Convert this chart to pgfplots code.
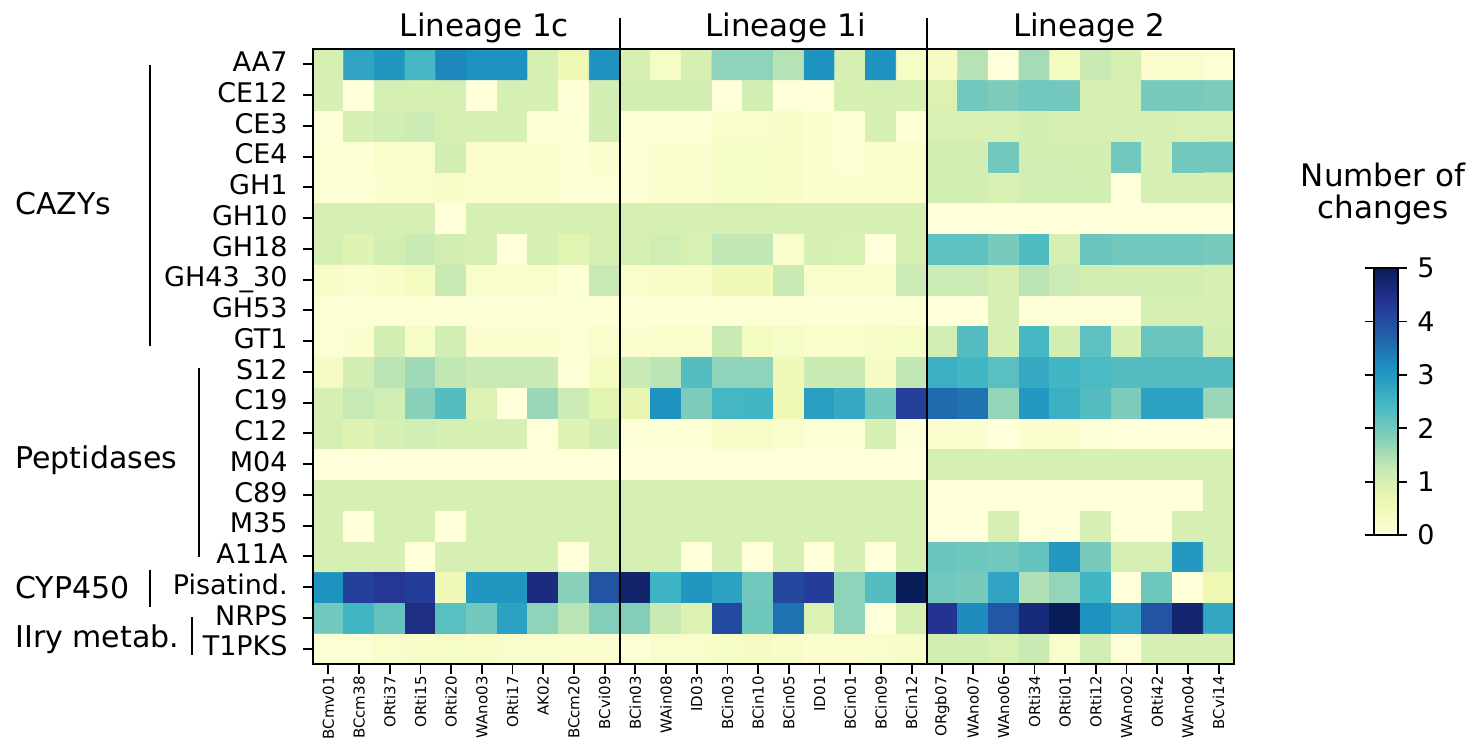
\documentclass[border=0pt]{standalone}
\usepackage{fontspec}
\setmainfont{DejaVu Sans}
\usepackage{pgfplots}
\pgfplotsset{compat=1.18}
\newcommand{\fs}[1]{\fontsize{#1}{#1}\selectfont}
\begin{document}
\begin{tikzpicture}
\begin{axis}[
  at={(0,0)}, anchor=south west,
  scale only axis, width=460.5pt, height=307.5pt,
  xmin=-0.5, xmax=29.5, ymin=-0.5, ymax=19.5,
  enlargelimits=false, axis on top, clip=false,
  colormap={ylgnbu}{rgb255=(255,255,217) rgb255=(237,248,177) rgb255=(199,233,180) rgb255=(127,205,187) rgb255=(65,182,196) rgb255=(29,145,192) rgb255=(34,94,168) rgb255=(37,52,148) rgb255=(8,29,88)},
  point meta min=0, point meta max=5,
  xtick={0,...,29}, ytick={0,...,19},
  xticklabels={BCmv01,BCcm38,ORti37,ORti15,ORti20,WAno03,ORti17,AK02,BCcm20,BCvi09,BCin03,WAin08,ID03,BCin03,BCin10,BCin05,ID01,BCin01,BCin09,BCin12,ORgb07,WAno07,WAno06,ORti34,ORti01,ORti12,WAno02,ORti42,WAno04,BCvi14},
  yticklabels={T1PKS,NRPS,Pisatind.,A11A,M35,C89,M04,C12,C19,S12,GT1,GH53,GH43\_30,GH18,GH10,GH1,CE4,CE3,CE12,AA7},
  xtick pos=bottom, ytick pos=left,
  tick align=outside, major tick length=5pt,
  every tick/.append style={black, line width=0.9pt},
  xtick style={black, line width=0.9pt},
  ytick style={black, line width=0.9pt},
  axis line style={black, line width=1.3pt},
  xticklabel style={font=\fs{7.5}, inner sep=0pt, rotate=90, anchor=east, xshift=-1pt},
  yticklabel style={font=\fs{13.5}, inner sep=0pt, anchor=east, text height=0.73em, text depth=0pt, xshift=-7.5pt},
  colorbar right,
  colorbar style={
    scale only axis, width=12pt, height=133.5pt,
    anchor=south west, at={(parent axis.south east)}, xshift=61.5pt, yshift=64.5pt,
    ytick={0,1,2,3,4,5},
    tick align=outside, major tick length=4.5pt,
    every tick/.append style={black, line width=0.9pt},
    axis line style={black, line width=1pt},
    yticklabel style={font=\fs{13.5}, inner sep=0pt, anchor=west, xshift=5pt},
    /pgf/number format/assume math mode=true,
  },
]
% rows listed from bottom (T1PKS) to top (AA7); 30 values per row
\addplot[matrix plot*, mesh/cols=30, mesh/rows=20, mesh/ordering=x varies, point meta=explicit]
  table[row sep=\\, x expr={\coordindex-30*floor((\coordindex+0.5)/30)}, y expr={floor((\coordindex+0.5)/30)}, meta=v]{v\\
0.1\\0.1\\0.2\\0.25\\0.3\\0.25\\0.2\\0.2\\0.15\\0.15\\0.1\\0.2\\0.2\\0.3\\0.35\\0.25\\0.15\\0.15\\0.2\\0.25\\1.05\\1.05\\0.95\\1.2\\0.2\\1.1\\0.05\\1.0\\1.0\\1.0\\
2.0\\2.5\\2.15\\4.55\\2.25\\2.0\\2.85\\1.75\\1.35\\1.85\\1.85\\1.2\\0.9\\4.05\\2.05\\3.5\\0.9\\1.75\\0.0\\1.0\\4.4\\3.2\\3.85\\4.65\\5.0\\3.1\\2.8\\3.9\\4.75\\2.75\\
3.1\\4.2\\4.35\\4.25\\0.5\\3.05\\3.05\\4.6\\1.8\\3.9\\4.8\\2.55\\3.05\\2.85\\2.0\\4.1\\4.25\\1.75\\2.3\\5.0\\2.0\\1.95\\2.8\\1.45\\1.7\\2.5\\0.0\\2.05\\0.0\\0.6\\
1\\1\\1\\0\\1\\1\\1\\1\\0\\1\\1\\1\\0\\1\\0\\1\\0\\1\\0\\1\\2.1\\2.05\\2.0\\2.15\\3.0\\1.95\\1.0\\1.0\\3.0\\1.0\\
1\\0\\1\\1\\0\\1\\1\\1\\1\\1\\1\\1\\1\\1\\1\\1\\1\\1\\1\\1\\0\\0\\1\\0\\0\\1\\0\\0\\1\\1\\
1\\1\\1\\1\\1\\1\\1\\1\\1\\1\\1\\1\\1\\1\\1\\1\\1\\1\\1\\1\\0\\0\\0\\0\\0\\0\\0\\0\\0\\1\\
0\\0\\0\\0\\0\\0\\0\\0\\0\\0\\0\\0\\0\\0\\0\\0\\0\\0\\0\\0\\1\\1\\1\\1\\1\\1\\1\\1\\1\\1\\
1.0\\0.85\\1.0\\1.1\\1.0\\1.0\\1.0\\0.0\\0.85\\1.05\\0.05\\0.1\\0.1\\0.25\\0.25\\0.15\\0.1\\0.1\\1.0\\0.05\\0.15\\0.15\\0.0\\0.15\\0.15\\0.05\\0.0\\0.0\\0.0\\0.0\\
1.0\\1.25\\1.1\\1.8\\2.3\\0.9\\0.0\\1.65\\1.15\\0.8\\0.7\\3.1\\1.9\\2.45\\2.5\\0.55\\2.9\\2.7\\2.0\\4.2\\3.6\\3.5\\1.7\\3.0\\2.6\\2.3\\1.9\\2.85\\2.85\\1.65\\
0.35\\1.05\\1.35\\1.6\\1.3\\1.2\\1.2\\1.2\\0.05\\0.4\\1.2\\1.35\\2.3\\1.75\\1.75\\0.5\\1.2\\1.2\\0.35\\1.3\\2.6\\2.5\\2.25\\2.7\\2.5\\2.4\\2.3\\2.3\\2.3\\2.3\\
0.1\\0.15\\1.05\\0.3\\1.1\\0.15\\0.15\\0.15\\0.1\\0.2\\0.15\\0.2\\0.2\\1.2\\0.4\\0.3\\0.2\\0.2\\0.25\\0.3\\1.1\\2.3\\1.0\\2.45\\1.05\\2.2\\1.0\\2.1\\2.1\\1.05\\
0.1\\0.1\\0.1\\0.1\\0.1\\0.1\\0.1\\0.1\\0.1\\0.1\\0.1\\0.1\\0.1\\0.1\\0.1\\0.1\\0.1\\0.1\\0.1\\0.1\\0.0\\0.0\\1.0\\0.05\\0.05\\0.05\\0.05\\1.0\\1.0\\1.0\\
0.25\\0.15\\0.25\\0.4\\1.2\\0.2\\0.2\\0.2\\0.1\\1.2\\0.2\\0.25\\0.25\\0.5\\0.5\\1.2\\0.2\\0.2\\0.2\\1.15\\1.15\\1.15\\1.0\\1.35\\1.15\\1.05\\1.05\\1.05\\1.05\\1.0\\
1.0\\0.85\\1.05\\1.2\\1.05\\1.0\\0.0\\1.0\\0.8\\1.0\\1.0\\1.1\\0.95\\1.3\\1.3\\0.2\\1.0\\0.95\\0.0\\1.0\\2.2\\2.2\\1.95\\2.35\\1.0\\2.1\\2.0\\2.0\\2.0\\1.95\\
1\\1\\1\\1\\0\\1\\1\\1\\1\\1\\1\\1\\1\\1\\1\\1\\1\\1\\1\\1\\0\\0\\0\\0\\0\\0\\0\\0\\0\\0\\
0.1\\0.1\\0.15\\0.2\\0.25\\0.15\\0.15\\0.15\\0.1\\0.1\\0.1\\0.15\\0.15\\0.3\\0.3\\0.25\\0.15\\0.15\\0.15\\0.2\\1.05\\1.05\\0.95\\1.1\\1.1\\1.05\\0.0\\1.0\\1.0\\1.0\\
0.1\\0.1\\0.2\\0.2\\1.05\\0.15\\0.15\\0.15\\0.1\\0.15\\0.1\\0.15\\0.15\\0.3\\0.3\\0.25\\0.15\\0.1\\0.15\\0.2\\1.05\\1.05\\2.0\\1.05\\1.05\\1.05\\2.0\\1.0\\2.0\\2.0\\
0.05\\1.0\\1.1\\1.15\\1.0\\1.0\\1.0\\0.1\\0.1\\1.05\\0.1\\0.1\\0.1\\0.2\\0.2\\0.25\\0.15\\0.1\\1.0\\0.1\\0.95\\0.95\\0.95\\1.05\\1.0\\1.0\\1.0\\1.0\\0.95\\0.95\\
1.0\\0.0\\1.0\\1.0\\1.0\\0.0\\1.0\\1.0\\0.05\\1.05\\1.05\\1.05\\1.05\\0.0\\1.05\\0.0\\0.0\\1.0\\1.0\\1.0\\0.9\\2.0\\1.9\\2.0\\2.0\\1.0\\1.0\\1.95\\1.95\\1.9\\
1.0\\2.8\\3.05\\2.45\\3.25\\3.1\\3.1\\1.0\\0.6\\3.1\\1.0\\0.3\\1.0\\1.75\\1.75\\1.4\\3.1\\1.0\\3.1\\0.3\\0.35\\1.4\\0.0\\1.55\\0.4\\1.2\\1.0\\0.15\\0.15\\0.1\\};
% lineage separators
\draw[black, line width=1pt] (axis cs:9.5,-0.5) -- (axis cs:9.5,20.5);
\draw[black, line width=1pt] (axis cs:19.5,-0.5) -- (axis cs:19.5,20.5);
% lineage labels
\node[anchor=base, inner sep=0pt, font=\fs{15.5}] at (axis description cs:0.186,1.0211) {Lineage 1c};
\node[anchor=base, inner sep=0pt, font=\fs{15.5}] at (axis description cs:0.513,1.0211) {Lineage 1i};
\node[anchor=base, inner sep=0pt, font=\fs{15.5}] at (axis description cs:0.8426,1.0211) {Lineage 2};
% group annotations
\draw[black, line width=1pt] (axis description cs:-0.177,0.974) -- (axis description cs:-0.177,0.517);
\node[anchor=base west, inner sep=0pt, font=\fs{15}] at (axis description cs:-0.3236,0.7317) {CAZYs};
\draw[black, line width=1pt] (axis description cs:-0.1238,0.4813) -- (axis description cs:-0.1238,0.174);
\node[anchor=base west, inner sep=0pt, font=\fs{15}] at (axis description cs:-0.3236,0.3187) {Peptidases};
\draw[black, line width=1pt] (axis description cs:-0.177,0.1528) -- (axis description cs:-0.177,0.0927);
\node[anchor=base west, inner sep=0pt, font=\fs{15}] at (axis description cs:-0.3236,0.1073) {CYP450};
\draw[black, line width=1pt] (axis description cs:-0.1314,0.0764) -- (axis description cs:-0.1314,0.0146);
\node[anchor=base west, inner sep=0pt, font=\fs{15}] at (axis description cs:-0.3236,0.0276) {IIry metab.};
% colorbar title
\node[anchor=base, inner sep=0pt, font=\fs{15.5}] at (axis description cs:1.1618,0.777) {Number of};
\node[anchor=base, inner sep=0pt, font=\fs{15.5}] at (axis description cs:1.1618,0.7236) {changes};
\end{axis}
\pgfresetboundingbox
\useasboundingbox (-156.5pt,-44pt) rectangle (580pt,332pt);
\end{tikzpicture}
\end{document}
